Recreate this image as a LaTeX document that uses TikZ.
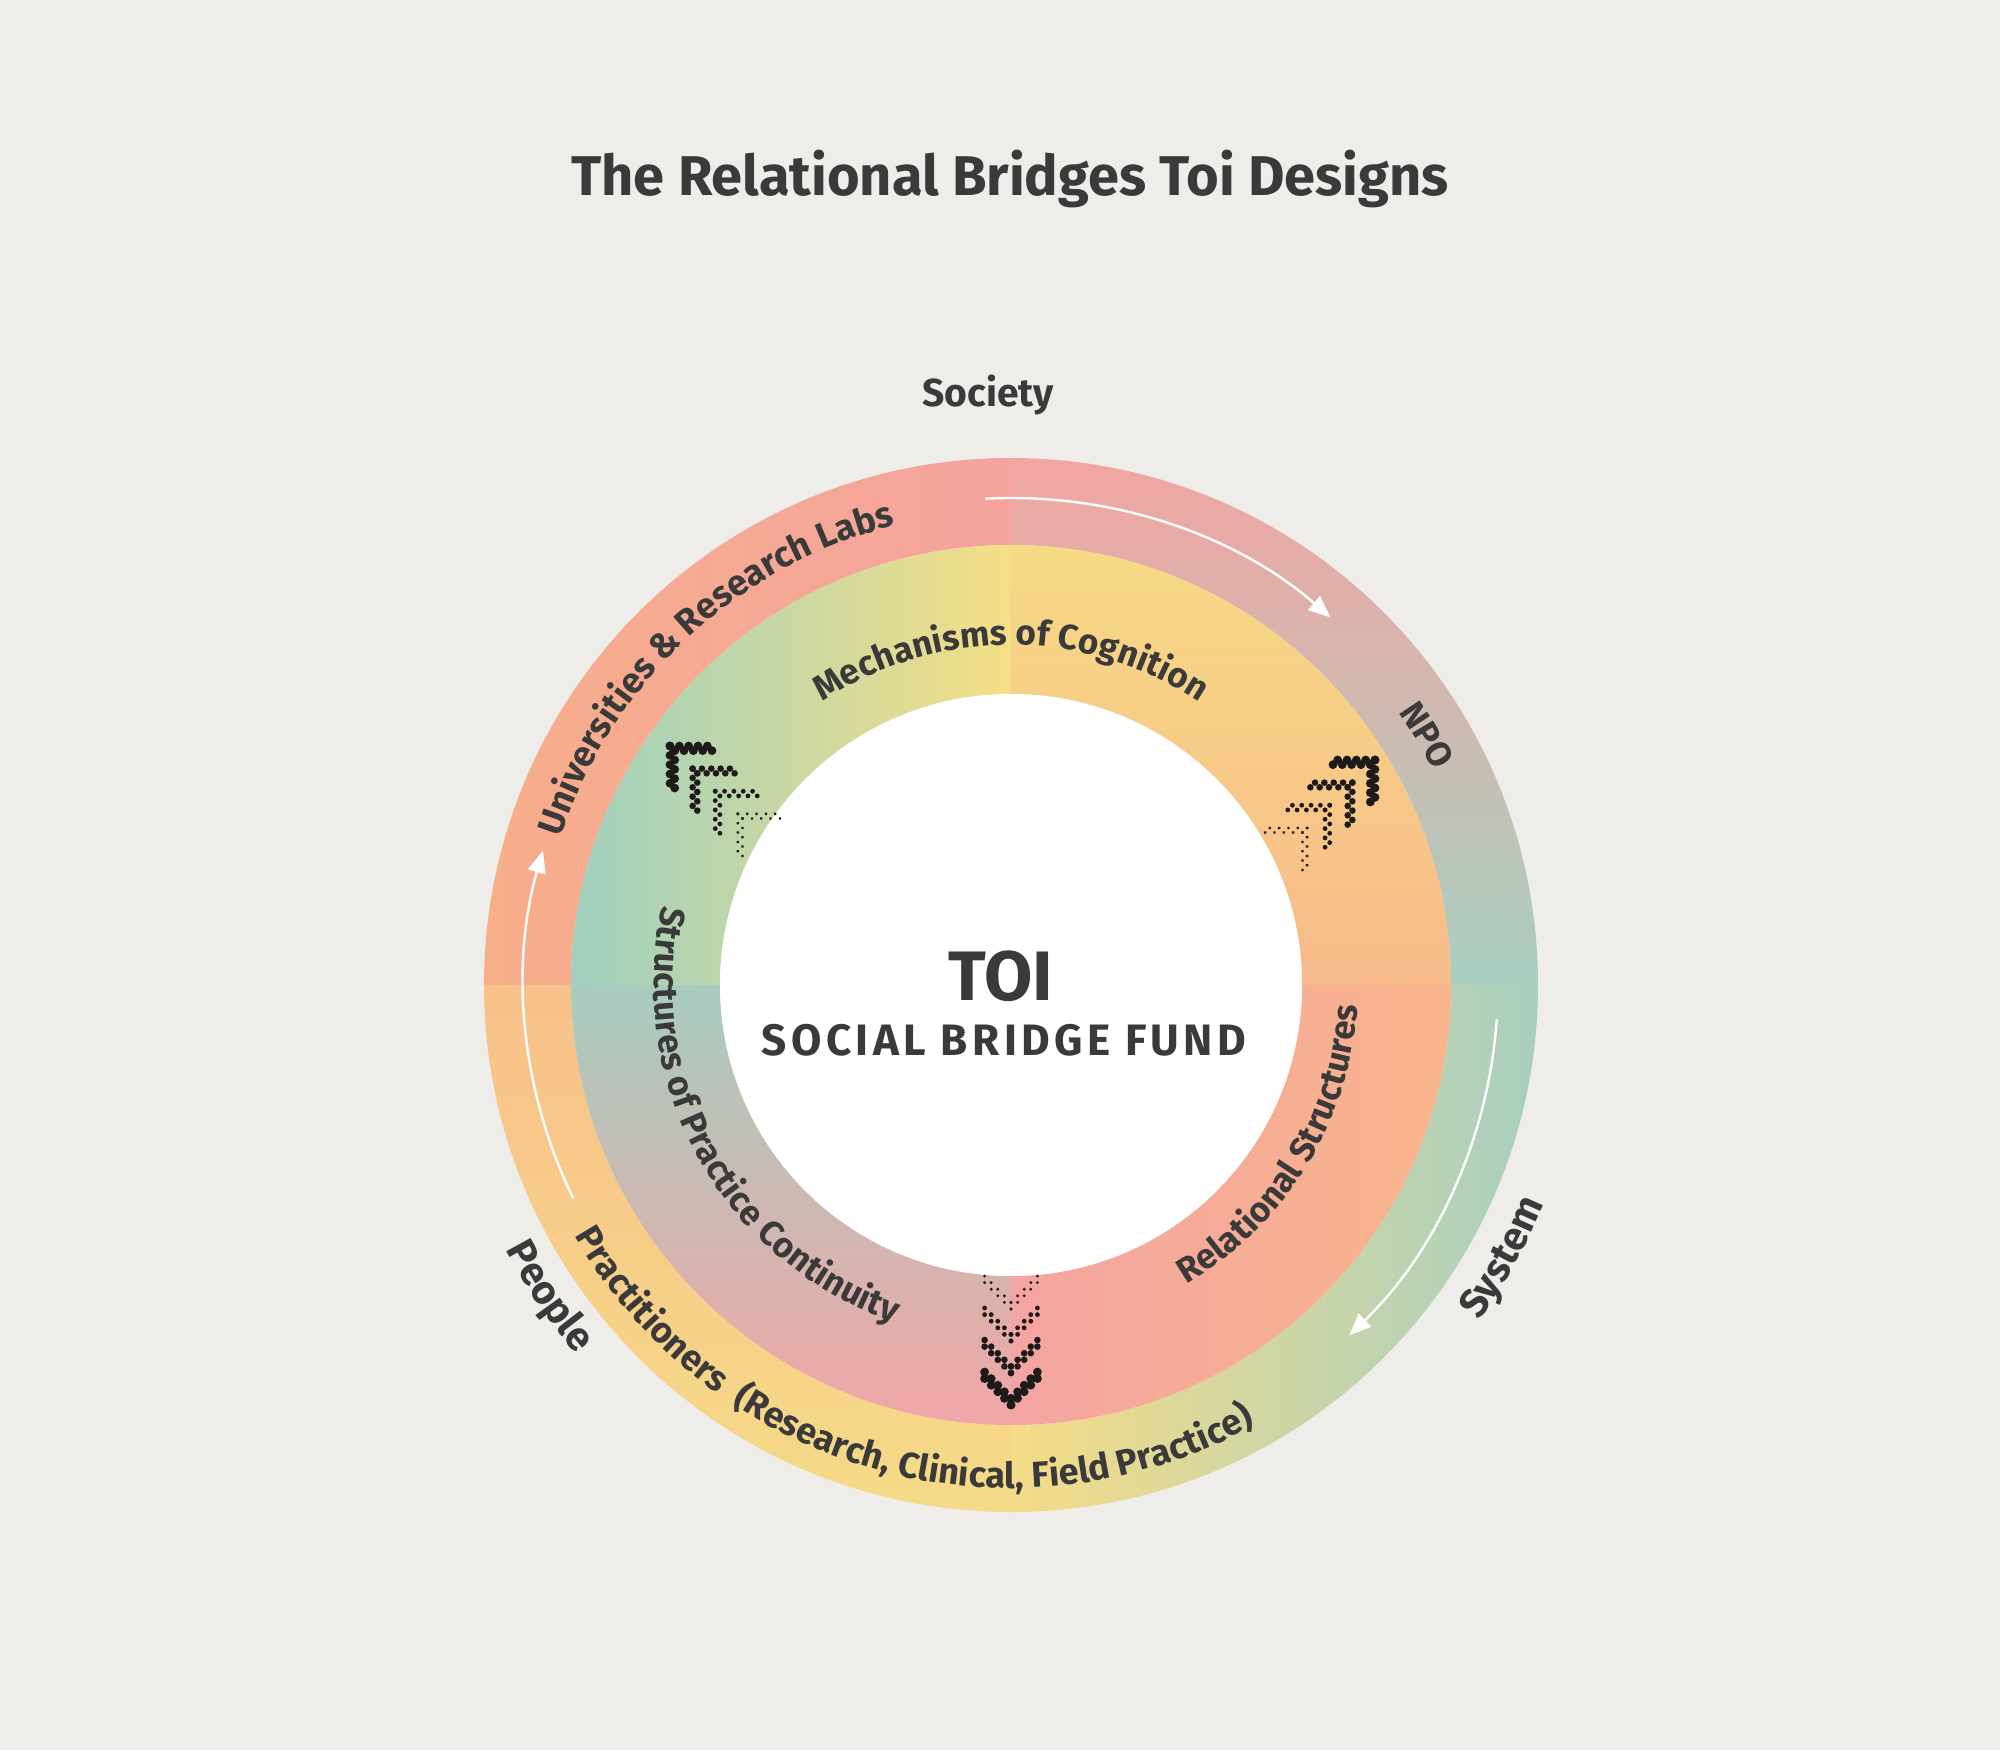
\documentclass[tikz,border=0pt]{standalone}
\usepackage{fontspec}
\setmainfont{Fira Sans}
\usetikzlibrary{decorations.text,arrows.meta}
\definecolor{bg}{HTML}{EEEDE9}
\definecolor{txt}{HTML}{3A3A3A}
\definecolor{dotc}{HTML}{1E1A1A}
\newcommand\lbl[1]{\fontsize{#1}{#1}\selectfont\bfseries\color{txt}}
\newcommand\mychev[3]{%
\begin{scope}[shift={(#1,#2)},rotate=#3-90]
\foreach \k/\r in {0/2.2,1/1.65,2/1.2,3/0.8}{
 \foreach \i in {0,...,4}{\foreach \j in {0,1}{
  \fill[dotc] (\i*3.3,-\i*3.3-\j*3.3-\k*16) circle[radius=\r];
  \fill[dotc] (-\i*3.3,-\i*3.3-\j*3.3-\k*16) circle[radius=\r];
 }}}
\end{scope}}
\tikzset{
 arcl/.style={postaction={decorate},decoration={text along path,text align=center,text={#1}}},
 warrow/.style={white,line width=1.2pt,-{Triangle[length=11pt,width=9pt]}}
}
\begin{document}
\begin{tikzpicture}[x=1pt,y=1pt]
\useasboundingbox (-505.5,-382.5) rectangle (494.5,492.5);
\fill[bg] (-505.5,-382.5) rectangle (494.5,492.5);
\def\Ro{263.5}\def\Rm{220}\def\Ri{145.5}
\shade[left color={rgb,255:red,247;green,174;blue,138},right color={rgb,255:red,244;green,163;blue,158}]
 (180:\Ro) arc[start angle=180,end angle=90,radius=\Ro] -- (90:\Rm) arc[start angle=90,end angle=180,radius=\Rm] -- cycle;
\shade[top color={rgb,255:red,242;green,165;blue,162},bottom color={rgb,255:red,168;green,207;blue,192}]
 (90:\Ro) arc[start angle=90,end angle=0,radius=\Ro] -- (0:\Rm) arc[start angle=0,end angle=90,radius=\Rm] -- cycle;
\shade[left color={rgb,255:red,245;green,220;blue,136},right color={rgb,255:red,169;green,207;blue,191}]
 (0:\Ro) arc[start angle=0,end angle=-90,radius=\Ro] -- (-90:\Rm) arc[start angle=-90,end angle=0,radius=\Rm] -- cycle;
\shade[top color={rgb,255:red,248;green,192;blue,138},bottom color={rgb,255:red,245;green,219;blue,135}]
 (270:\Ro) arc[start angle=270,end angle=180,radius=\Ro] -- (180:\Rm) arc[start angle=180,end angle=270,radius=\Rm] -- cycle;
\shade[left color={rgb,255:red,159;green,208;blue,191},right color={rgb,255:red,245;green,223;blue,134}]
 (180:\Rm) arc[start angle=180,end angle=90,radius=\Rm] -- (90:\Ri) arc[start angle=90,end angle=180,radius=\Ri] -- cycle;
\shade[top color={rgb,255:red,246;green,218;blue,133},bottom color={rgb,255:red,248;green,186;blue,139}]
 (90:\Rm) arc[start angle=90,end angle=0,radius=\Rm] -- (0:\Ri) arc[start angle=0,end angle=90,radius=\Ri] -- cycle;
\shade[left color={rgb,255:red,244;green,164;blue,162},right color={rgb,255:red,248;green,181;blue,139}]
 (0:\Rm) arc[start angle=0,end angle=-90,radius=\Rm] -- (-90:\Ri) arc[start angle=-90,end angle=0,radius=\Ri] -- cycle;
\shade[top color={rgb,255:red,168;green,204;blue,191},bottom color={rgb,255:red,241;green,166;blue,166}]
 (270:\Rm) arc[start angle=270,end angle=180,radius=\Rm] -- (180:\Ri) arc[start angle=180,end angle=270,radius=\Ri] -- cycle;
\fill[white] (0,0) circle[radius=\Ri];
\node (title) at (-0.5,403) {\lbl{28}The Relational Bridges Toi Designs};
\node (society) at (-11.5,295) {\lbl{19.5}Society};
\node (toi) at (-5,4.5) {\lbl{35}TOI};
\node (fund) at (-3.5,-27.5) {\lbl{22}\addfontfeature{LetterSpace=10}SOCIAL BRIDGE FUND};
\path[arcl={|\lbl{18}|Universities {\&} Research Labs}] (178:237) arc[start angle=178,end angle=88,radius=237];
\path[arcl={|\lbl{17.5}|Mechanisms of Cognition}] (140:170) arc[start angle=140,end angle=40,radius=170];
\path[arcl={|\lbl{17.5}|NPO}] (51:237) arc[start angle=51,end angle=11,radius=237];
\path[arcl={|\lbl{17.5}|Structures of Practice Continuity}] (145:178.5) arc[start angle=145,end angle=273,radius=178.5];
\path[arcl={|\lbl{17.5}|Relational Structures}] (-80:173.5) arc[start angle=-80,end angle=17,radius=173.5];
\path[arcl={|\lbl{18}|Practitioners {\ }(Research, Clinical, Field Practice)}] (190:251.5) arc[start angle=190,end angle=319,radius=251.5];
\path[arcl={|\lbl{20}|People}] (195:285) arc[start angle=195,end angle=233,radius=285];
\path[arcl={|\lbl{20}|System}] (-48:288) arc[start angle=-48,end angle=-10,radius=288];
\coordinate (a1s) at (93:243.5); \coordinate (a2s) at (206:243.5); \coordinate (a3s) at (-4:243.5);
\draw[warrow] (a1s) arc[start angle=93,end angle=49,radius=243.5];
\draw[warrow] (a2s) arc[start angle=206,end angle=164,radius=243.5];
\draw[warrow] (a3s) arc[start angle=-4,end angle=-46,radius=243.5];
\mychev{0}{-210}{-90}
\mychev{182}{112.5}{45}
\mychev{-170.5}{119.5}{135}
\end{tikzpicture}
\end{document}
